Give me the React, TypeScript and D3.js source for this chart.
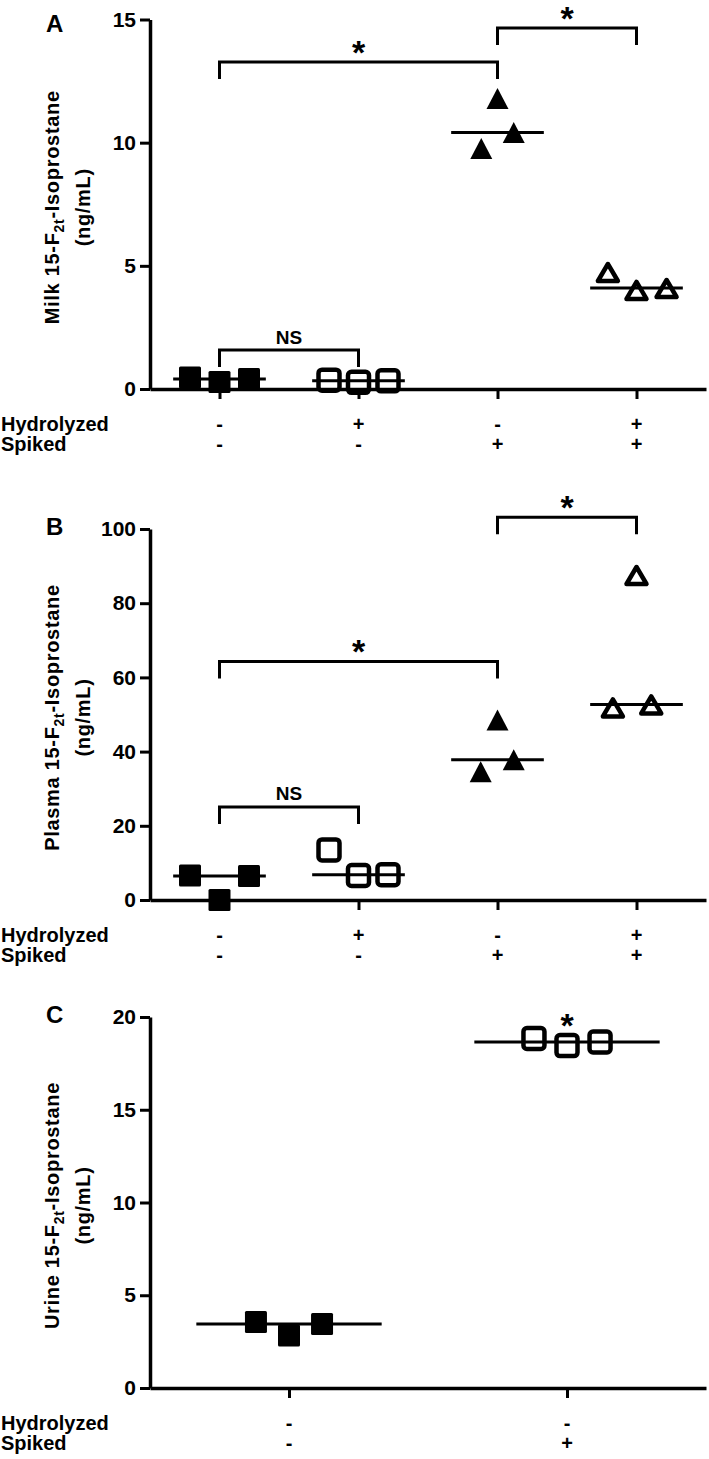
import React, { useEffect, useRef } from 'react'
import * as d3 from 'd3'

const svgWidth = 709
const svgHeight = 1459
const axisLeft = 150
const axisRight = 706
const jitterUnit = 29.5
const bracketDrop = 17
const font = "'Liberation Sans', Arial, sans-serif"
const narrow = "'Liberation Sans Narrow', 'Arial Narrow', 'Liberation Sans', Arial, sans-serif"

const rowLabels = ['Hydrolyzed', 'Spiked']

// A - milk
const milkHydrolyzed = ['-', '+', '-', '+']
const milkSpiked = ['-', '-', '+', '+']
const milkMarkers = ['squareFilled', 'squareOpen', 'triangleFilled', 'triangleOpen']
const milkValues = [
	[0.47, 0.28, 0.41],
	[0.36, 0.27, 0.33],
	[11.79, 9.76, 10.41],
	[4.75, 4.02, 4.1],
]
const milkJitter = [
	[-1, 0, 1],
	[-1, 0, 1],
	[0, -0.55, 0.55],
	[-0.97, 0, 1.02],
]
const milkTicks = [0, 5, 10, 15]
const milkBrackets = [
	{ from: 0, to: 2, level: 13.27, label: '*' },
	{ from: 2, to: 3, level: 14.65, label: '*' },
	{ from: 0, to: 1, level: 1.58, label: 'NS' },
]

// B - plasma
const plasmaHydrolyzed = ['-', '+', '-', '+']
const plasmaSpiked = ['-', '-', '+', '+']
const plasmaMarkers = ['squareFilled', 'squareOpen', 'triangleFilled', 'triangleOpen']
const plasmaValues = [
	[6.6, 0.0, 6.5],
	[13.5, 6.6, 6.8],
	[48.5, 34.6, 37.8],
	[87.6, 51.9, 52.7],
]
const plasmaJitter = [
	[-1, 0, 1],
	[-1, 0, 1],
	[0, -0.57, 0.55],
	[0, -0.8, 0.5],
]
const plasmaTicks = [0, 20, 40, 60, 80, 100]
const plasmaBrackets = [
	{ from: 0, to: 2, level: 64.3, label: '*' },
	{ from: 2, to: 3, level: 103.2, label: '*' },
	{ from: 0, to: 1, level: 25.1, label: 'NS' },
]

// C - urine
const urineHydrolyzed = ['-', '-']
const urineSpiked = ['-', '+']
const urineMarkers = ['squareFilled', 'squareOpen']
const urineValues = [
	[3.56, 2.83, 3.45],
	[18.84, 18.46, 18.65],
]
const urineJitter = [
	[-1.12, 0, 1.12],
	[-1.12, 0, 1.12],
]
const urineTicks = [0, 5, 10, 15, 20]
const urineStars = [{ group: 1, level: 20.0, label: '*' }]

const trianglePath = (w, h) => `M0,${-h / 2}L${w / 2},${h / 2}L${-w / 2},${h / 2}Z`

const Marker = ({ kind, cx, cy }) => {
	if (kind === 'squareFilled')
		return <rect x={cx - 11} y={cy - 11} width={22} height={22} rx={1.5} fill="#000" />
	if (kind === 'squareOpen')
		return (
			<rect x={cx - 10.5} y={cy - 10.5} width={21} height={21} rx={3.5}
				fill="none" stroke="#000" strokeWidth={4.5} />
		)
	if (kind === 'triangleFilled')
		return <path d={trianglePath(22, 21)} transform={`translate(${cx},${cy})`} fill="#000" />
	return (
		<path d={trianglePath(20, 17)} transform={`translate(${cx},${cy + 0.5})`}
			fill="none" stroke="#000" strokeWidth={4.5} strokeLinejoin="round" />
	)
}

const Panel = ({ top, bottom, letter, letterY, yLabel, ticks, hydrolyzed, spiked, markers, values, jitter, brackets = [], stars = [] }) => {
	const yAxisRef = useRef(null)
	const xAxisRef = useRef(null)
	const groups = hydrolyzed.map((h, i) => `${h}${spiked[i]}`)

	const y = d3.scaleLinear().domain([0, d3.max(ticks)]).range([bottom, top])
	const x = d3.scalePoint().domain(groups).range([axisLeft, axisRight]).padding(0.5)
	const step = x.step()

	useEffect(() => {
		const yAxis = d3.axisLeft(y).tickValues(ticks).tickSize(10).tickSizeOuter(0).tickPadding(4)
		const yg = d3.select(yAxisRef.current)
		yg.call(yAxis)
		yg.select('.domain').attr('stroke-width', 3.5)
		yg.selectAll('.tick line').attr('stroke-width', 3)
		yg.selectAll('.tick text')
			.attr('font-family', narrow)
			.attr('font-weight', 'bold')
			.attr('font-size', 21)
			.attr('fill', '#000')

		const xAxis = d3.axisBottom(x).tickSize(10).tickSizeOuter(0).tickFormat(() => '')
		const xg = d3.select(xAxisRef.current)
		xg.call(xAxis)
		xg.select('.domain').attr('stroke-width', 3.5)
		xg.selectAll('.tick line').attr('stroke-width', 3)
	})

	const midY = (top + bottom) / 2 + 3

	return (
		<g>
			<text x={46} y={letterY} fontFamily={font} fontWeight="bold" fontSize={24}>{letter}</text>

			<text transform={`translate(59,${midY}) rotate(-90)`} textAnchor="middle"
				fontFamily={font} fontWeight="bold" fontSize={20} letterSpacing={0.7}>
				{yLabel} 15-F
				<tspan fontSize={14} dy={5}>2t</tspan>
				<tspan dy={-5}>-Isoprostane</tspan>
			</text>
			<text transform={`translate(90,${midY}) rotate(-90)`} textAnchor="middle"
				fontFamily={font} fontWeight="bold" fontSize={20} letterSpacing={0.7}>
				(ng/mL)
			</text>

			<g ref={yAxisRef} transform={`translate(${axisLeft},0)`} />
			<g ref={xAxisRef} transform={`translate(0,${bottom})`} />

			{values.map((vals, gi) => {
				const cx = x(groups[gi])
				const med = y(d3.median(vals))
				return (
					<g key={gi}>
						{vals.map((v, pi) => (
							<Marker key={pi} kind={markers[gi]} cx={cx + jitter[gi][pi] * jitterUnit} cy={y(v)} />
						))}
						<line x1={cx - step / 3} x2={cx + step / 3} y1={med} y2={med} stroke="#000" strokeWidth={3} />
					</g>
				)
			})}

			{brackets.map((b, i) => {
				const x1 = x(groups[b.from])
				const x2 = x(groups[b.to])
				const by = y(b.level)
				const isStar = b.label === '*'
				return (
					<g key={i}>
						<path d={`M${x1},${by + bracketDrop}V${by}H${x2}V${by + bracketDrop}`}
							fill="none" stroke="#000" strokeWidth={3} />
						<text x={(x1 + x2) / 2} y={isStar ? by - 18 + 20 : by - 13 + 6.5}
							textAnchor="middle" fontFamily={isStar ? font : narrow} fontWeight="bold"
							fontSize={isStar ? 34 : 19}>{b.label}</text>
					</g>
				)
			})}

			{stars.map((s, i) => (
				<text key={i} x={x(groups[s.group])} y={y(s.level) + 20} textAnchor="middle"
					fontFamily={font} fontWeight="bold" fontSize={34}>{s.label}</text>
			))}

			{[hydrolyzed, spiked].map((row, ri) => (
				<g key={ri} fontFamily={font} fontWeight="bold" fontSize={20}>
					<text x={1} y={bottom + 42 + ri * 19.5}>{rowLabels[ri]}</text>
					{row.map((s, gi) => (
						<text key={gi} x={x(groups[gi])} y={bottom + 42 + ri * 19.5} textAnchor="middle">{s}</text>
					))}
				</g>
			))}
		</g>
	)
}

export default function App() {
	return (
		<svg width={svgWidth} height={svgHeight} style={{ position: 'absolute', left: 0, top: 0, background: '#fff' }}>
			<Panel top={19.5} bottom={389} letter="A" letterY={32} yLabel="Milk" ticks={milkTicks}
				hydrolyzed={milkHydrolyzed} spiked={milkSpiked} markers={milkMarkers}
				values={milkValues} jitter={milkJitter} brackets={milkBrackets} />
			<Panel top={529} bottom={900} letter="B" letterY={535} yLabel="Plasma" ticks={plasmaTicks}
				hydrolyzed={plasmaHydrolyzed} spiked={plasmaSpiked} markers={plasmaMarkers}
				values={plasmaValues} jitter={plasmaJitter} brackets={plasmaBrackets} />
			<Panel top={1017} bottom={1388} letter="C" letterY={1023} yLabel="Urine" ticks={urineTicks}
				hydrolyzed={urineHydrolyzed} spiked={urineSpiked} markers={urineMarkers}
				values={urineValues} jitter={urineJitter} stars={urineStars} />
		</svg>
	)
}
